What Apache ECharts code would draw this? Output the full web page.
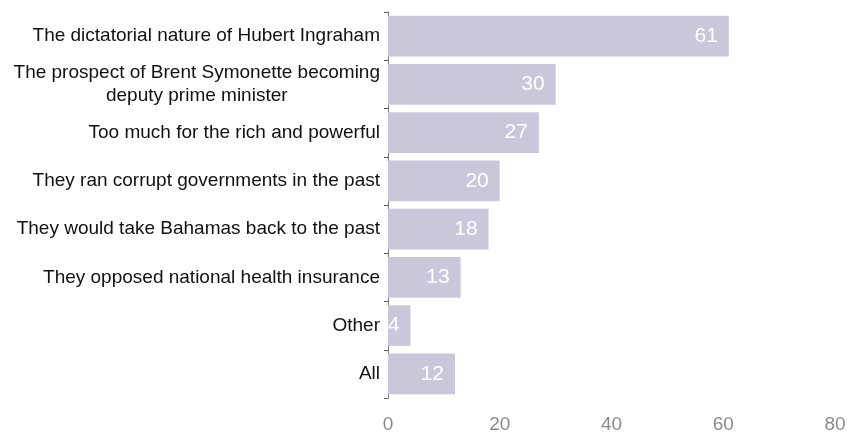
<!DOCTYPE html>
<html><head><meta charset="utf-8">
<script src="https://cdn.jsdelivr.net/npm/echarts@6/dist/echarts.min.js"></script>
<style>html,body{margin:0;padding:0;background:#fff}#c{width:857px;height:440px}</style>
</head><body><div id="c"></div>
<script>
const categories = [
  "The dictatorial nature of Hubert Ingraham",
  "The prospect of Brent Symonette becoming\ndeputy prime minister",
  "Too much for the rich and powerful",
  "They ran corrupt governments in the past",
  "They would take Bahamas back to the past",
  "They opposed national health insurance",
  "Other",
  "All"
];
const values = [61, 30, 27, 20, 18, 13, 4, 12];
const xTicks = [0, 20, 40, 60, 80];

const chart = echarts.init(document.getElementById('c'), null, {renderer: 'canvas'});
chart.setOption({
  animation: false,
  backgroundColor: '#fff',
  grid: {left: 388, right: 22, top: 12, bottom: 42},
  xAxis: {
    type: 'value', min: xTicks[0], max: xTicks[xTicks.length - 1], interval: 20,
    axisLine: {show: false}, axisTick: {show: false}, splitLine: {show: false},
    axisLabel: {color: '#8a8a8a', fontFamily: 'Liberation Sans', fontSize: 19, margin: 17}
  },
  yAxis: {
    type: 'category', inverse: true, data: categories,
    axisLine: {show: true, lineStyle: {color: '#777', width: 1}},
    axisTick: {show: true, length: 4, lineStyle: {color: '#555'}},
    axisLabel: {
      color: '#111', fontFamily: 'Liberation Sans', fontSize: 19, margin: 8,
      formatter: function (v) {
        const parts = v.split('\n');
        if (parts.length === 1) return v;
        return '{a|' + parts[0] + '}\n' + parts.slice(1).map(p => '{c|' + p + '}').join('\n');
      },
      rich: {
        a: {fontFamily: 'Liberation Sans', fontSize: 19, color: '#111', lineHeight: 23},
        c: {fontFamily: 'Liberation Sans', fontSize: 19, color: '#111', align: 'center', lineHeight: 23}
      }
    }
  },
  series: [{
    type: 'bar', data: values, barCategoryGap: '16%',
    itemStyle: {color: '#c9c8db'},
    label: {show: true, position: 'insideRight', offset: [-6, 0], color: '#fff',
      fontFamily: 'Liberation Sans', fontSize: 21}
  }]
});
</script></body></html>
